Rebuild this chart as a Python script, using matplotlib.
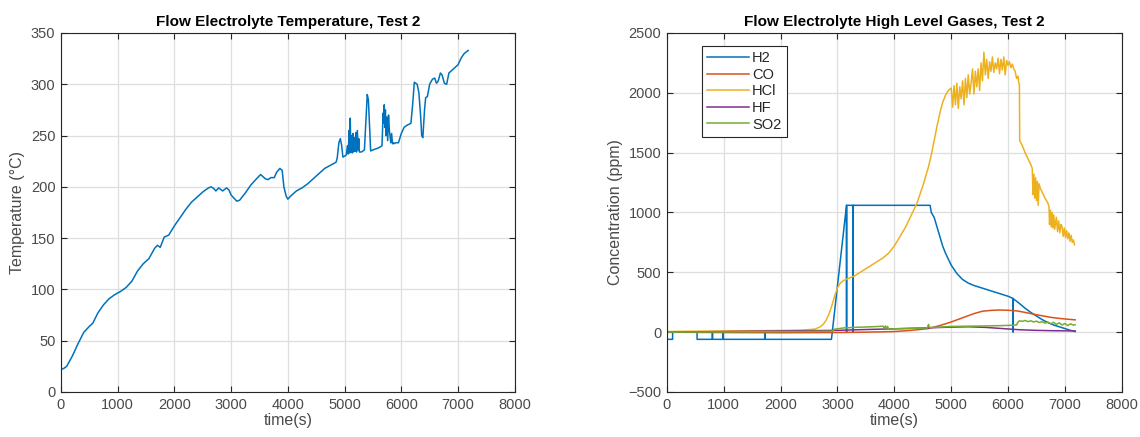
import matplotlib
matplotlib.use("Agg")
import matplotlib.pyplot as plt

plt.rcParams['font.family'] = ['Liberation Sans', 'DejaVu Sans']

# ---- Temperature, Test 2 ----
temp_t = [0, 50, 100, 200, 300, 400, 500, 560, 650, 750, 850, 950, 1050, 1150, 1250,
          1350, 1450, 1550, 1650, 1700, 1750, 1820, 1900, 2000, 2100, 2200, 2300, 2400,
          2500, 2600, 2650, 2700, 2730, 2780, 2850, 2920, 2960, 3000, 3050, 3100, 3150,
          3250, 3350, 3450, 3520, 3600, 3650, 3700, 3760, 3800, 3860, 3900, 3930, 3970,
          4000, 4050, 4150, 4250, 4350, 4450, 4550, 4650, 4750, 4850, 4870, 4900, 4925,
          4950, 4970, 5000, 5030, 5050, 5065, 5080, 5090, 5100, 5110, 5125, 5135, 5150,
          5160, 5175, 5185, 5200, 5210, 5225, 5240, 5250, 5260, 5300, 5350, 5380, 5400,
          5420, 5440, 5460, 5500, 5600, 5660, 5680, 5690, 5700, 5710, 5720, 5730, 5745,
          5760, 5775, 5790, 5800, 5815, 5830, 5845, 5860, 5875, 5900, 5950, 6000, 6050,
          6100, 6170, 6200, 6230, 6280, 6310, 6340, 6360, 6380, 6395, 6410, 6430, 6460,
          6500, 6550, 6590, 6620, 6650, 6690, 6720, 6760, 6800, 6840, 6880, 6940, 7000,
          7060, 7110, 7180]
temp_v = [22, 23, 25, 35, 47, 58, 64, 67, 77, 85, 91, 95, 98, 102, 108,
          118, 125, 130, 140, 143, 141, 151, 153, 162, 170, 178, 185, 190,
          195, 199, 200, 198, 196, 199, 196, 199, 197, 192, 189, 186, 187,
          194, 202, 208, 212, 208, 207, 209, 209, 214, 218, 216, 200, 191,
          188, 191, 196, 199, 203, 208, 213, 218, 221, 224, 228, 243, 247,
          240, 229, 230, 231, 240, 232, 255, 233, 267, 234, 250, 233, 252,
          234, 248, 235, 253, 234, 255, 236, 247, 234, 234, 236, 268, 290,
          285, 260, 235, 236, 238, 240, 272, 262, 280, 258, 275, 250, 268,
          245, 270, 255, 250, 243, 252, 242, 243, 242, 243, 243, 252, 258,
          260, 262, 280, 302, 300, 292, 270, 250, 248, 262, 275, 287, 288,
          300, 305, 306, 301, 303, 311, 309, 301, 300, 311, 313, 316, 319,
          326, 330, 333]

# ---- High level gases, Test 2 ----
h2_t = [0, 1, 100, 101, 530, 531, 800, 801, 802, 990, 991, 992, 1720, 1721, 1722,
        2894, 3159, 3160, 3161, 3276, 3277, 3278, 4629, 4650, 4700, 4750, 4800, 4850,
        4900, 4950, 5000, 5100, 5200, 5300, 5400, 5500, 5600, 5700, 5800, 5900, 6000,
        6088, 6089, 6090, 6200, 6300, 6400, 6500, 6600, 6700, 6800, 6900, 7000, 7100, 7180]
h2_v = [0, -60, -60, 0, 0, -60, -60, 0, -60, -60, 0, -60, -60, 0, -60,
        -60, 1060, 0, 1060, 1060, 0, 1060, 1060, 1000, 960, 880, 800, 720,
        660, 610, 560, 490, 440, 410, 390, 375, 360, 345, 330, 315, 300,
        282, 0, 280, 240, 200, 165, 135, 105, 80, 60, 45, 30, 15, 5]

co_t = [0, 1000, 2000, 3000, 3500, 4000, 4300, 4600, 4800, 5000, 5200, 5400, 5550,
        5700, 5850, 6000, 6150, 6300, 6450, 6600, 6750, 6900, 7050, 7180]
co_v = [0, -3, -5, -3, 0, 5, 15, 30, 55, 85, 120, 155, 175, 182, 185, 183, 178,
        165, 150, 137, 124, 115, 108, 103]

hcl_t = [0, 500, 1000, 1500, 2000, 2400, 2600, 2700, 2750, 2800, 2850, 2900, 2950,
         3000, 3050, 3100, 3200, 3300, 3400, 3500, 3600, 3700, 3800, 3900, 4000, 4100,
         4200, 4300, 4400, 4500, 4600, 4650, 4700, 4750, 4800, 4850, 4900, 4950, 5000,
         5025, 5050, 5075, 5100, 5125, 5150, 5175, 5200, 5225, 5250, 5275, 5300, 5325,
         5350, 5375, 5400, 5425, 5450, 5475, 5500, 5525, 5550, 5575, 5600, 5625, 5650,
         5675, 5700, 5725, 5750, 5775, 5800, 5825, 5850, 5875, 5900, 5925, 5950, 5975,
         6000, 6025, 6050, 6075, 6100, 6125, 6150, 6175, 6190, 6200, 6205, 6250, 6300,
         6350, 6400, 6425, 6440, 6455, 6470, 6485, 6500, 6515, 6530, 6545, 6570, 6600,
         6650, 6700, 6720, 6730, 6745, 6760, 6775, 6790, 6805, 6820, 6850, 6870, 6890,
         6910, 6930, 6950, 6970, 6990, 7010, 7030, 7050, 7070, 7090, 7110, 7130, 7150,
         7170]
hcl_v = [5, 8, 10, 12, 14, 18, 25, 45, 65, 100, 150, 220, 300,
         370, 410, 430, 450, 470, 500, 530, 560, 590, 620, 660, 720, 800,
         880, 980, 1080, 1220, 1380, 1480, 1600, 1720, 1830, 1920, 1980, 2020, 2040,
         1880, 2060, 1900, 2080, 1870, 2050, 1950, 2100, 1900, 2120, 1960, 2150, 1990,
         2080, 2200, 1990, 2180, 2050, 2200, 2020, 2250, 2100, 2340, 2150, 2280, 2120,
         2260, 2180, 2300, 2170, 2250, 2200, 2290, 2160, 2280, 2190, 2300, 2150, 2270,
         2230, 2260, 2210, 2240, 2200, 2180, 2120, 2140, 2080, 2070, 1600, 1560, 1500,
         1450, 1400, 1370, 1150, 1320, 1120, 1290, 1100, 1260, 1060, 1240, 1200, 1170,
         1120, 1080, 1050, 900, 1020, 880, 1000, 870, 980, 860, 960, 840, 930,
         830, 900, 880, 800, 870, 790, 850, 780, 830, 760, 810, 750, 770,
         730]

hf_t = [0, 1000, 2000, 3000, 3500, 4000, 4500, 5000, 5300, 5600, 5900, 6200, 6500,
        6800, 7180]
hf_v = [0, 5, 10, 15, 22, 28, 35, 42, 45, 40, 30, 20, 15, 12, 10]

so2_t = [0, 1000, 2000, 2900, 2950, 3000, 3100, 3300, 3500, 3700, 3800, 3820, 3840,
         3860, 3880, 3900, 4000, 4200, 4400, 4580, 4600, 4620, 4800, 5000, 5300,
         5600, 5900, 6100, 6150, 6170, 6200, 6250, 6300, 6350, 6400, 6450, 6500,
         6550, 6600, 6650, 6700, 6750, 6800, 6850, 6900, 6950, 7000, 7050, 7100,
         7150, 7180]
so2_v = [0, 2, 5, 8, 25, 28, 35, 40, 43, 47, 50, 35, 52, 30, 48, 25, 28, 30, 33,
         35, 65, 38, 42, 48, 50, 52, 55, 58, 60, 80, 95, 90, 98, 88, 95, 85, 92,
         80, 88, 75, 85, 70, 82, 65, 78, 60, 72, 55, 70, 58, 62]

series_names = ["H2", "CO", "HCl", "HF", "SO2"]
colors = ["#0072BD", "#D95319", "#EDB120", "#7E2F8E", "#77AC30"]

title_left = "Flow Electrolyte Temperature, Test 2"
title_right = "Flow Electrolyte High Level Gases, Test 2"
xlabel = "time(s)"
ylabel_left = "Temperature (°C)"
ylabel_right = "Concentration (ppm)"

text_color = "#4a4a4a"


def matlab_style(ax):
    ax.grid(True, color="#dedede", linewidth=0.9)
    ax.set_axisbelow(True)
    for s in ax.spines.values():
        s.set_color("#262626")
        s.set_linewidth(0.8)
    ax.tick_params(direction="in", top=True, right=True, length=4,
                   width=0.8, color="#262626", labelcolor=text_color,
                   labelsize=10.5, pad=4)


fig = plt.figure(figsize=(11.4, 4.37), dpi=100)
ax1 = fig.add_axes([0.0535, 0.103, 0.398, 0.8215])
ax2 = fig.add_axes([0.585, 0.103, 0.399, 0.8215])

ax1.plot(temp_t, temp_v, color=colors[0], linewidth=1.1)
ax1.set_xlim(0, 8000)
ax1.set_ylim(0, 350)
ax1.set_xticks(range(0, 8001, 1000))
ax1.set_yticks(range(0, 351, 50))
ax1.set_title(title_left, fontsize=11, fontweight="bold", pad=5)
ax1.set_xlabel(xlabel, fontsize=11.5, color=text_color, labelpad=1)
ax1.set_ylabel(ylabel_left, fontsize=11.5, color=text_color, labelpad=4)
matlab_style(ax1)

gas_data = [(h2_t, h2_v), (co_t, co_v), (hcl_t, hcl_v), (hf_t, hf_v), (so2_t, so2_v)]
for (t, v), name, c in zip(gas_data, series_names, colors):
    ax2.plot(t, v, color=c, linewidth=1.1, label=name)
ax2.set_xlim(0, 8000)
ax2.set_ylim(-500, 2500)
ax2.set_xticks(range(0, 8001, 1000))
ax2.set_yticks(range(-500, 2501, 500))
ax2.set_title(title_right, fontsize=11, fontweight="bold", pad=5)
ax2.set_xlabel(xlabel, fontsize=11.5, color=text_color, labelpad=1)
ax2.set_ylabel(ylabel_right, fontsize=11.5, color=text_color, labelpad=4)
matlab_style(ax2)

leg = ax2.legend(loc="upper left", bbox_to_anchor=(0.077, 0.964), fancybox=False,
                 edgecolor="#262626", framealpha=1, fontsize=10.5, handlelength=2.9,
                 handletextpad=0.2, labelspacing=0.18, borderpad=0.35,
                 borderaxespad=0.0)
leg.get_frame().set_linewidth(0.8)
for txt in leg.get_texts():
    txt.set_color("#262626")

fig.savefig("out.png", dpi=100)
